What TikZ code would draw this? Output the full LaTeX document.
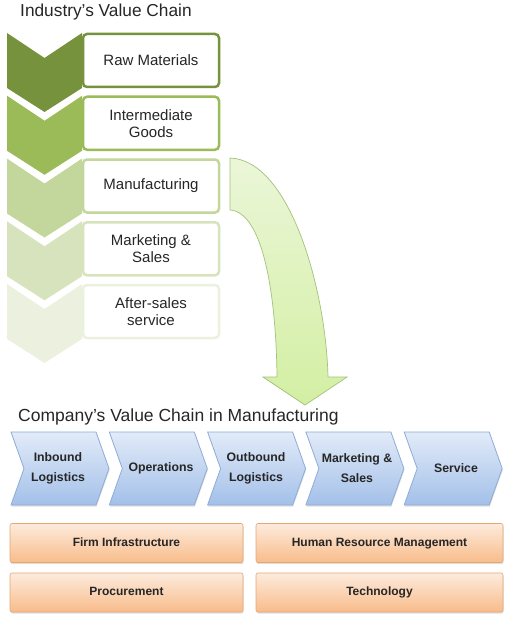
\documentclass[tikz,border=0pt]{standalone}
\usepackage{fontspec}
\setmainfont{Liberation Sans}
\usetikzlibrary{shadows}
\definecolor{gA}{HTML}{76923C}
\definecolor{gB}{HTML}{9BBB59}
\definecolor{gC}{HTML}{C3D69B}
\definecolor{gD}{HTML}{D7E3BC}
\definecolor{gE}{HTML}{EBF1DE}
\definecolor{bTop}{HTML}{E2EBF8}
\definecolor{bBot}{HTML}{A3C0E9}
\definecolor{bBord}{HTML}{8EACD6}
\definecolor{oTop}{HTML}{FDEBDD}
\definecolor{oBot}{HTML}{F8BC8A}
\definecolor{oBord}{HTML}{E3A774}
\definecolor{aTop}{HTML}{EBF6D8}
\definecolor{aBot}{HTML}{D3EFA3}
\definecolor{aBord}{HTML}{A3C27A}
\definecolor{txt}{HTML}{262626}
\tikzset{
  gbox/.style={rectangle, rounded corners=4pt, fill=white, line width=2.5pt,
    minimum width=136pt, minimum height=53pt, align=center, inner sep=0pt,
    font=\fontsize{15}{17}\selectfont, text=txt},
  bchev/.style={draw=bBord, line width=0.8pt, top color=bTop, bottom color=bBot,
    drop shadow={shadow xshift=0.6pt, shadow yshift=-1.6pt, opacity=0.25}},
  btext/.style={align=center, inner sep=0pt, text=txt,
    font=\bfseries\fontsize{12.3}{20}\selectfont},
  obox/.style={rectangle, rounded corners=2pt, draw=oBord, line width=0.6pt,
    top color=oTop, bottom color=oBot, minimum height=39pt, inner sep=0pt,
    text height=8.6pt, text depth=2.5pt,
    font=\bfseries\fontsize{12}{14}\selectfont, text=txt,
    drop shadow={shadow xshift=0.6pt, shadow yshift=-1.6pt, opacity=0.25}},
  ttl/.style={anchor=base west, inner sep=0pt, text=txt}
}
\begin{document}
\begin{tikzpicture}[x=1pt,y=-1pt]
\useasboundingbox (0,0) rectangle (516,623);
% titles
\node[ttl, font=\fontsize{17.3}{20}\selectfont] (t1) at (20,17) {Industry’s Value Chain};
% green chevrons
\foreach \i/\c in {0/gA,1/gB,2/gC,3/gD,4/gE} {
  \pgfmathsetmacro\t{33+62.75*\i}
  \fill[\c] (7,\t) -- (44.5,\t+25) -- (82,\t) -- (82,\t+55) -- (44.5,\t+79) -- (7,\t+55) -- cycle;
}
% green boxes
\node[gbox, draw=gA] (raw) at (151,60.5) {Raw Materials};
\node[gbox, draw=gB] (inter) at (151,123.25) {Intermediate\\Goods};
\node[gbox, draw=gC] (mfg) at (151,186) {Manufacturing};
\node[gbox, draw=gD] (mkt) at (151,248.75) {Marketing \&\\Sales};
\node[gbox, draw=gE] (aft) at (151,311.5) {After-sales\\service};
% curved arrow
\path[draw=aBord, line width=0.7pt, top color=aTop, bottom color=aBot]
  (230,158) .. controls (290,160) and (326,290) .. (328,377)
  -- (347,377) -- (305,405) -- (263,377) -- (277,377)
  .. controls (276,290) and (262,212) .. (230,210) -- cycle;
\node[ttl, font=\fontsize{17.5}{20}\selectfont] (t2) at (18,421) {Company’s Value Chain in Manufacturing};
% blue chevrons
\foreach \i in {0,...,4} {
  \pgfmathsetmacro\x{11+98.3*\i}
  \path[bchev] (\x,432) -- (\x+85,432) -- (\x+98,468.5) -- (\x+85,505) -- (\x,505) -- (\x+13,468.5) -- cycle;
}
\node[btext] (inb) at (58,468.5) {Inbound\\Logistics};
\node[btext] (ops) at (161,468.5) {Operations};
\node[btext] (outb) at (256,468.5) {Outbound\\Logistics};
\node[btext] (ms) at (357,468.5) {Marketing \&\\Sales};
\node[btext] (srv) at (456,468.5) {Service};
% orange boxes
\node[obox, minimum width=233pt] (fi) at (126.5,543) {Firm Infrastructure};
\node[obox, minimum width=247pt] (hrm) at (379.5,543) {Human Resource Management};
\node[obox, minimum width=233pt] (proc) at (126.5,592.5) {Procurement};
\node[obox, minimum width=247pt] (tech) at (379.5,592.5) {Technology};
\end{tikzpicture}
\end{document}
